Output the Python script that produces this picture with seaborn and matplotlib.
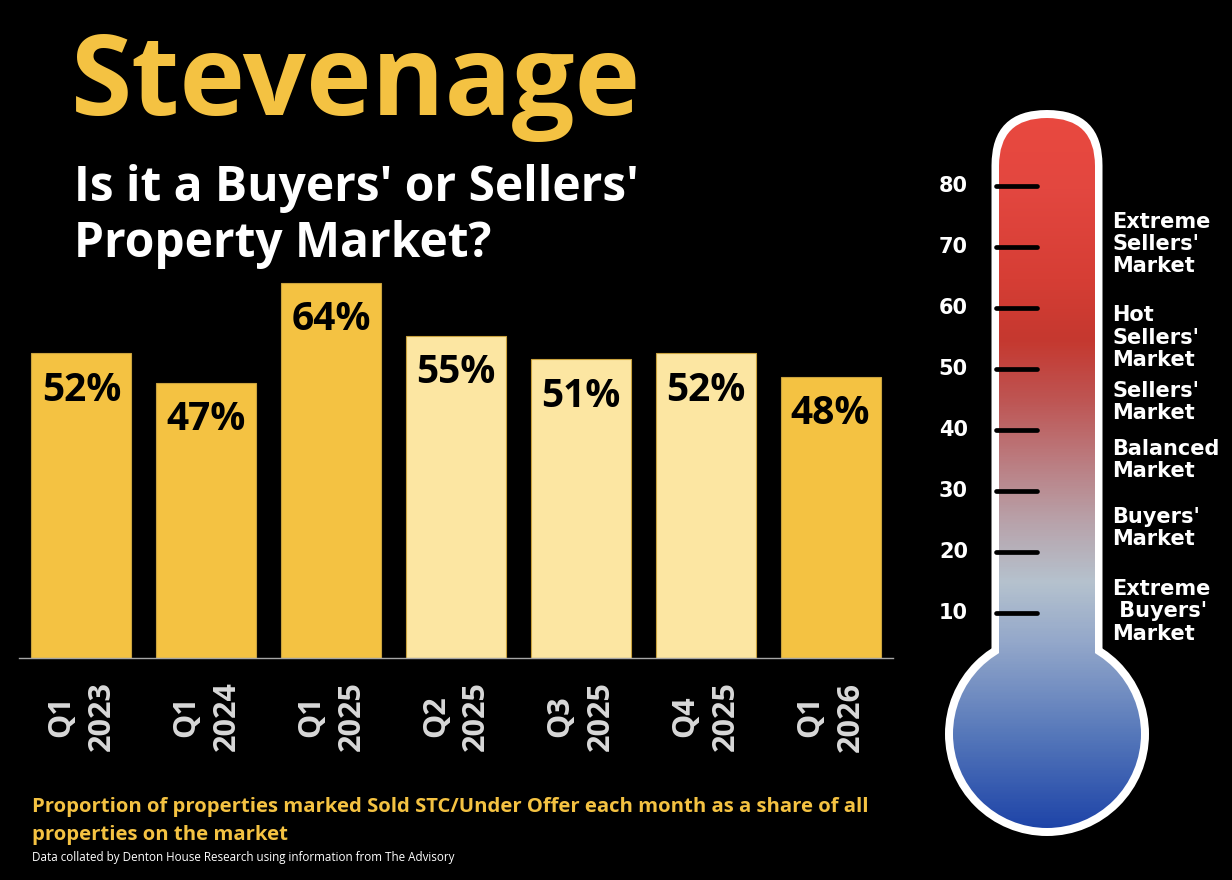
import numpy as np
import matplotlib
matplotlib.use("Agg")
import matplotlib.pyplot as plt
from matplotlib.colors import LinearSegmentedColormap
from matplotlib.patches import FancyBboxPatch, Circle
import seaborn as sns

# ---------------- data ----------------
periods = ["Q1\n2023", "Q1\n2024", "Q1\n2025", "Q2\n2025", "Q3\n2025", "Q4\n2025", "Q1\n2026"]
share_pct = [52, 47, 64, 55, 51, 52, 48]
bar_colors = ["#F4C242", "#F4C242", "#F4C242", "#FCE6A2", "#FCE6A2", "#FCE6A2", "#F4C242"]

therm_ticks = [10, 20, 30, 40, 50, 60, 70, 80]
zone_labels = ["Extreme\nSellers'\nMarket", "Hot\nSellers'\nMarket", "Sellers'\nMarket",
               "Balanced\nMarket", "Buyers'\nMarket", "Extreme\n Buyers'\nMarket"]
zone_label_at = [70.5, 55.1, 44.6, 35.1, 23.9, 10.3]

title = "Stevenage"
subtitle_lines = ["Is it a Buyers' or Sellers'", "Property Market?"]
footer_lines = ["Proportion of properties marked Sold STC/Under Offer each month as a share of all",
                "properties on the market"]
source = "Data collated by Denton House Research using information from The Advisory"

# ---------------- style ----------------
sns.set_theme(style="dark")
plt.rcParams["font.family"] = ["Open Sans", "DejaVu Sans"]

W, H = 1232, 880
fig = plt.figure(figsize=(W / 100, H / 100), dpi=100, facecolor="black")

def fx(px):
    return px / W

def fy(py):
    return 1 - py / H

# ---------------- bar chart ----------------
ax = fig.add_axes([fx(19), fy(658), (893 - 19) / W, 410 / H])
ax.set_facecolor("black")
sns.barplot(x=periods, y=share_pct, hue=periods, palette=bar_colors, legend=False,
            width=0.8, edgecolor="#C9A23E", linewidth=0.8, saturation=1, ax=ax)
ax.set_ylim(0, 70)
ax.set_xlim(-0.5, len(periods) - 0.5)
for i, v in enumerate(share_pct):
    ax.annotate(f"{v}%", xy=(i, v), xytext=(0, -34), textcoords="offset points",
                ha="center", va="baseline", fontsize=28, fontweight="bold",
                color="black", family=["Open Sans", "DejaVu Sans"])
for s in ["top", "left", "right"]:
    ax.spines[s].set_visible(False)
ax.spines["bottom"].set_color("#A6A6A6")
ax.spines["bottom"].set_linewidth(1.0)
ax.set_yticks([])
ax.set_xlabel("")
ax.set_ylabel("")
ax.grid(False)
ax.tick_params(axis="x", length=0, pad=17, colors="#D9D9D9", labelsize=22)
for lab in ax.get_xticklabels():
    lab.set_rotation(90)
    lab.set_fontweight("bold")
    lab.set_linespacing(1.45)
    lab.set_ha("center")
    lab.set_va("top")

# ---------------- titles ----------------
fig.text(fx(71), fy(115), title, fontsize=80, fontweight="bold", color="#F4C242",
         ha="left", va="baseline")
fig.text(fx(74), fy(201), subtitle_lines[0], fontsize=34.5, fontweight="bold", color="white",
         ha="left", va="baseline")
fig.text(fx(74), fy(257), subtitle_lines[1], fontsize=34.5, fontweight="bold", color="white",
         ha="left", va="baseline")
fig.text(fx(32), fy(812), footer_lines[0], fontsize=14.6, fontweight="bold", color="#F4C242",
         ha="left", va="baseline")
fig.text(fx(32), fy(840), footer_lines[1], fontsize=14.6, fontweight="bold", color="#F4C242",
         ha="left", va="baseline")
fig.text(fx(32), fy(861), source, fontsize=8.4, color="white",
         ha="left", va="baseline")

# ---------------- thermometer ----------------
PX = 6.1          # pixels per value unit
cx_px, zero_px = 1047, 674
tax = fig.add_axes([fx(900), 0, (W - 900) / W, 1])
tax.set_xlim((900 - cx_px) / PX, (W - cx_px) / PX)
tax.set_ylim((zero_px - H) / PX, zero_px / PX)
tax.axis("off")

outer_hw, inner_hw = 55.5 / PX, 48 / PX
outer_top = (zero_px - 110) / PX
inner_top = (zero_px - 118) / PX
bulb_c = (zero_px - 734) / PX
bulb_ro, bulb_ri = 102 / PX, 94 / PX

# white outline
tax.add_patch(FancyBboxPatch((-outer_hw, bulb_c), 2 * outer_hw, outer_top - bulb_c,
                             boxstyle=f"round,pad=0,rounding_size={outer_hw}",
                             facecolor="white", edgecolor="none", zorder=1))
tax.add_patch(Circle((0, bulb_c), bulb_ro, facecolor="white", edgecolor="none", zorder=1))

# gradient fill
stops_v = [-25.5, -10, 5, 15, 25, 35, 45, 55, 65, 80, 92]
stops_c = ["#1E44A8", "#5678BA", "#93A7CA", "#B5C2CE", "#B8A2AA", "#BB7C80",
           "#BE5553", "#C5382F", "#D63E35", "#E34740", "#E9493F"]
vmin, vmax = stops_v[0], stops_v[-1]
cmap = LinearSegmentedColormap.from_list(
    "therm", [((v - vmin) / (vmax - vmin), c) for v, c in zip(stops_v, stops_c)])
grad = np.linspace(0, 1, 600).reshape(-1, 1)

tube = FancyBboxPatch((-inner_hw, bulb_c), 2 * inner_hw, inner_top - bulb_c,
                      boxstyle=f"round,pad=0,rounding_size={inner_hw}",
                      facecolor="none", edgecolor="none", zorder=2)
bulb = Circle((0, bulb_c), bulb_ri, facecolor="none", edgecolor="none", zorder=2)
for clip in (tube, bulb):
    tax.add_patch(clip)
    im = tax.imshow(grad, cmap=cmap, aspect="auto", origin="lower",
                    extent=[-bulb_ri, bulb_ri, vmin, vmax], zorder=2, interpolation="bilinear")
    im.set_clip_path(clip)
tax.set_xlim((900 - cx_px) / PX, (W - cx_px) / PX)
tax.set_ylim((zero_px - H) / PX, zero_px / PX)

for v in therm_ticks:
    tax.plot([(996 - cx_px) / PX, (1037 - cx_px) / PX], [v, v], color="black", lw=3.4,
             solid_capstyle="round", zorder=3)
    tax.text((968 - cx_px) / PX, v, str(v), ha="right", va="center", color="white",
             fontsize=15, fontweight="bold", family=["DejaVu Sans"])

for lab, v in zip(zone_labels, zone_label_at):
    tax.text((1112 - cx_px) / PX, v, lab, ha="left", va="center", color="white",
             fontsize=15, fontweight="bold", family=["DejaVu Sans"], linespacing=1.15)

fig.savefig("out.png", dpi=100, facecolor="black")
